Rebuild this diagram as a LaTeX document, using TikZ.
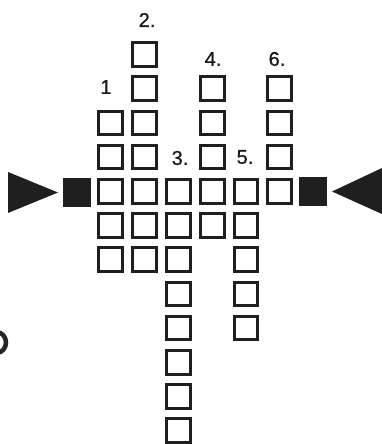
\documentclass[tikz,border=0pt]{standalone}
\usepackage{fontspec}
\setmainfont{Liberation Sans}
\newfontfamily\lblfont[FakeBold=0.7]{Liberation Sans}
\begin{document}
\begin{tikzpicture}[x=1pt,y=-1pt,
  cell/.style={draw=black!88, line width=3pt, minimum size=23.7pt, inner sep=0pt, fill=white},
  blk/.style={fill=black!88, minimum width=28pt, minimum height=29pt, inner sep=0pt},
  pointer/.style={fill=black!88},
  lbl/.style={font=\lblfont\fontsize{20}{20}\selectfont, text=black!90, inner sep=0pt}]
\useasboundingbox (0,0) rectangle (382,444);
% columns: col index, first row, last row
\foreach \c/\a/\b in {0/2/6, 1/0/6, 2/4/11, 3/1/5, 4/4/8, 5/1/4}{
  \foreach \r in {\a,...,\b}{
    \node[cell] (c\c r\r) at ({110.75+33.8*\c},{54.5+34.2*\r}) {};
  }
}
% black squares
\node[blk] (bl) at (77,192.5) {};
\node[blk] (br) at (313,191.5) {};
% pointers
\fill[pointer] (8,172) -- (8,213) -- (58,192.5) -- cycle;
\fill[pointer] (382,168) -- (382,214) -- (332,191.5) -- cycle;
% labels
\node[lbl] (l1) at (106,87) {1};
\node[lbl] (l2) at (147,20) {2.};
\node[lbl] (l3) at (180,158) {3.};
\node[lbl] (l4) at (213,59) {4.};
\node[lbl] (l5) at (245,157) {5.};
\node[lbl] (l6) at (277,59) {6.};
% cut-off round mark at left edge
\draw[black!85, line width=4.5pt] (-3,342.5) ellipse [x radius=9pt, y radius=10.25pt];
\end{tikzpicture}
\end{document}
